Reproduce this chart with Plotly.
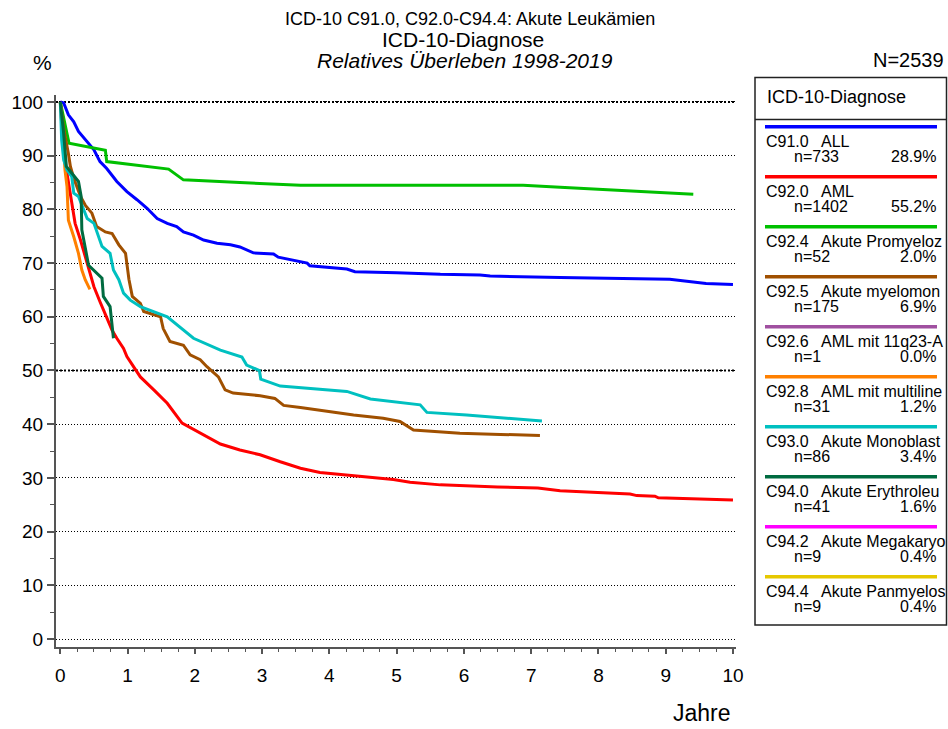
import plotly.graph_objects as go

# ---------------- data ----------------
codes = ["C91.0", "C92.0", "C92.4", "C92.5", "C92.6", "C92.8", "C93.0", "C94.0", "C94.2", "C94.4"]
names = ["ALL", "AML", "Akute Promyeloz", "Akute myelomon", "AML mit 11q23-A",
         "AML mit multiline", "Akute Monoblast", "Akute Erythroleu", "Akute Megakaryo", "Akute Panmyelos"]
counts = [733, 1402, 52, 175, 1, 31, 86, 41, 9, 9]
shares = ["28.9%", "55.2%", "2.0%", "6.9%", "0.0%", "1.2%", "3.4%", "1.6%", "0.4%", "0.4%"]
colors = ["#0000FF", "#FF0000", "#00C000", "#A05000", "#A050A0",
          "#FF8000", "#00C0C0", "#006B40", "#FF00FF", "#E6C800"]

years_c910 = [0, 0.05, 0.12, 0.2, 0.27, 0.4, 0.5, 0.59, 0.69, 0.84, 0.99, 1.14, 1.29, 1.44, 1.59, 1.73,
              1.83, 1.98, 2.13, 2.33, 2.53, 2.67, 2.87, 3.17, 3.24, 3.67, 3.71, 4.26, 4.38, 5.0, 5.65,
              6.24, 6.39, 7.43, 9.06, 9.6, 10.0]
surv_c910 = [100, 99.8, 97.6, 96.3, 94.5, 92.6, 91.1, 88.9, 87.6, 85.2, 83.3, 81.8, 80.2, 78.3, 77.4, 76.8,
             75.8, 75.2, 74.3, 73.7, 73.4, 73.0, 71.9, 71.7, 71.1, 70.0, 69.5, 68.9, 68.4, 68.2, 67.9,
             67.8, 67.6, 67.3, 67.0, 66.2, 66.0]

years_c920 = [0, 0.03, 0.07, 0.1, 0.17, 0.22, 0.3, 0.37, 0.42, 0.5, 0.59, 0.69, 0.77, 0.84, 0.94, 0.99,
              1.19, 1.39, 1.59, 1.81, 2.08, 2.38, 2.67, 2.97, 3.27, 3.57, 3.86, 4.26, 4.56, 4.95, 5.2,
              5.65, 6.5, 7.1, 7.43, 7.83, 8.47, 8.57, 8.84, 8.89, 10.0]
surv_c920 = [100, 94, 89, 86.7, 80.5, 77.4, 74.3, 71.2, 68.7, 65.6, 62.8, 60, 57.5, 56, 54.1, 52.6,
             48.8, 46.4, 43.9, 40.2, 38.3, 36.3, 35.2, 34.3, 33, 31.8, 31, 30.5, 30.1, 29.7, 29.2,
             28.7, 28.3, 28.1, 27.6, 27.4, 27.0, 26.7, 26.6, 26.3, 25.9]

years_c924 = [0, 0.05, 0.13, 0.67, 0.69, 1.61, 1.83, 2.67, 3.57, 6.88, 7.43, 9.41]
surv_c924 = [100, 97, 92.3, 91.0, 88.9, 87.5, 85.5, 85.0, 84.5, 84.5, 84.1, 82.8]

years_c925 = [0, 0.05, 0.12, 0.15, 0.2, 0.3, 0.37, 0.47, 0.54, 0.67, 0.77, 0.87, 0.97, 1.02, 1.07,
              1.19, 1.24, 1.49, 1.53, 1.63, 1.83, 1.93, 2.08, 2.18, 2.35, 2.45, 2.57, 2.97, 3.19,
              3.32, 3.57, 4.06, 4.36, 4.8, 5.05, 5.25, 5.55, 5.94, 6.54, 7.13]
surv_c925 = [100, 95, 90.4, 88, 85.8, 82.4, 80.8, 79.3, 76.8, 75.8, 75.5, 73.4, 71.8, 67, 63.8,
             62.5, 61.0, 60.0, 57.8, 55.4, 54.7, 52.9, 52, 50.7, 48.8, 46.4, 45.8, 45.3, 44.8,
             43.5, 43.1, 42.2, 41.7, 41.1, 40.5, 38.9, 38.6, 38.3, 38.1, 37.9]

years_c926 = []
surv_c926 = []

years_c928 = [0, 0.07, 0.1, 0.12, 0.2, 0.27, 0.32, 0.37, 0.44]
surv_c928 = [100, 87.3, 84.2, 78, 74.9, 71.8, 68.7, 66.9, 65.1]

years_c930 = [0, 0.02, 0.05, 0.1, 0.17, 0.2, 0.27, 0.4, 0.5, 0.62, 0.74, 0.79, 0.87, 0.94, 1.04,
              1.19, 1.59, 1.83, 1.98, 2.38, 2.7, 2.77, 2.96, 2.98, 3.27, 4.26, 4.61, 5.35, 5.45,
              6.04, 7.16]
surv_c930 = [100, 92.9, 89.2, 87.3, 86.1, 83, 82.4, 78.3, 77.4, 73.1, 71.8, 68.7, 66.9, 64.4, 63.1,
             61.9, 60, 57.5, 56, 53.8, 52.5, 51, 50, 48.4, 47.1, 46.1, 44.7, 43.6, 42.2,
             41.7, 40.6]

years_c940 = [0, 0.05, 0.09, 0.17, 0.27, 0.31, 0.32, 0.42, 0.62, 0.64, 0.74, 0.79]
surv_c940 = [100, 94.1, 88, 86.7, 85.2, 82.4, 76.2, 69.6, 67.2, 63.8, 61.9, 56]

years_c942 = []
surv_c942 = []
years_c944 = []
surv_c944 = []

series_years = [years_c910, years_c920, years_c924, years_c925, years_c926,
                years_c928, years_c930, years_c940, years_c942, years_c944]
series_surv = [surv_c910, surv_c920, surv_c924, surv_c925, surv_c926,
               surv_c928, surv_c930, surv_c940, surv_c942, surv_c944]

y_ticks = list(range(0, 101, 10))
x_ticks = list(range(0, 11))

# ---------------- layout geometry ----------------
W, H = 948, 729
L, R, T, B = 56, 212, 95, 82
PW, PH = W - L - R, H - T - B

def px(x):
    return (x - L) / PW

def py(y):
    return (H - B - y) / PH

FONT = "Liberation Sans, Arial, sans-serif"

fig = go.Figure()

for i in range(len(codes)):
    if len(series_years[i]) == 0:
        continue
    fig.add_trace(go.Scatter(x=series_years[i], y=series_surv[i], mode="lines",
                             line=dict(color=colors[i], width=3),
                             name=codes[i], showlegend=False, hoverinfo="skip"))

shapes = []
# heavier dotted gridlines at 50 and 100
for yv in (50, 100):
    shapes.append(dict(type="line", xref="paper", yref="y", x0=0, x1=1, y0=yv, y1=yv,
                       line=dict(color="black", width=2.2, dash="2px,2px"), layer="below"))

annotations = []
# titles
annotations.append(dict(text="ICD-10 C91.0, C92.0-C94.4: Akute Leukämien", x=px(470), y=py(19),
                        font=dict(size=18)))
annotations.append(dict(text="ICD-10-Diagnose", x=px(463), y=py(40), font=dict(size=21)))
annotations.append(dict(text="<i>Relatives Überleben 1998-2019</i>", x=px(465), y=py(61),
                        font=dict(size=21)))
annotations.append(dict(text="%", x=px(42), y=py(62), font=dict(size=21)))
annotations.append(dict(text="N=2539", x=px(946), y=py(60), xanchor="right", font=dict(size=20)))
annotations.append(dict(text="Jahre", x=px(733), y=py(713), xanchor="right", font=dict(size=23)))

# legend panel
BX0, BX1, BY0, BY1 = 755, 946.5, 77.5, 625
shapes.append(dict(type="rect", xref="paper", yref="paper", x0=px(BX0), x1=px(BX1),
                   y0=py(BY1), y1=py(BY0), line=dict(color="#222222", width=1.5)))
shapes.append(dict(type="line", xref="paper", yref="paper", x0=px(BX0), x1=px(BX1),
                   y0=py(119.5), y1=py(119.5), line=dict(color="#222222", width=1.5)))
annotations.append(dict(text="ICD-10-Diagnose", x=px(765), y=py(97), xanchor="left",
                        font=dict(size=18)))
for i in range(len(codes)):
    ly = 126.7 + 50 * i
    shapes.append(dict(type="line", xref="paper", yref="paper", x0=px(765), x1=px(937),
                       y0=py(ly), y1=py(ly), line=dict(color=colors[i], width=3.5)))
    annotations.append(dict(text=codes[i], x=px(764), y=py(ly + 14.5), xanchor="left",
                            font=dict(size=16)))
    annotations.append(dict(text=names[i], x=px(819), y=py(ly + 14.5), xanchor="left",
                            font=dict(size=16)))
    annotations.append(dict(text=f"n={counts[i]}", x=px(792), y=py(ly + 29.5), xanchor="left",
                            font=dict(size=16)))
    annotations.append(dict(text=shares[i], x=px(938), y=py(ly + 29.5), xanchor="right",
                            font=dict(size=16)))

for a in annotations:
    a.setdefault("xref", "paper")
    a.setdefault("yref", "paper")
    a.setdefault("showarrow", False)
    a.setdefault("xanchor", "center")
    a.setdefault("yanchor", "middle")
    a["font"] = dict(family=FONT, color="black", **a["font"])

fig.update_layout(
    width=W, height=H,
    margin=dict(l=L, r=R, t=T, b=B, pad=0),
    paper_bgcolor="white", plot_bgcolor="white",
    font=dict(family=FONT, color="black", size=19),
    showlegend=False,
    shapes=shapes,
    annotations=annotations,
    xaxis=dict(range=[-0.064, 10.045], tickvals=x_ticks, ticktext=[str(v) for v in x_ticks],
               showgrid=False, zeroline=False, showline=True, linecolor="#555555", linewidth=2,
               ticks="outside", ticklen=5, tickwidth=1.5, tickcolor="#555555",
               ticklabelstandoff=5,
               tickfont=dict(size=19, family=FONT, color="black"),
               minor=dict(dtick=0.25, tick0=0, ticks="outside", ticklen=3, tickwidth=1.2,
                          tickcolor="#555555", showgrid=False),
               fixedrange=True),
    yaxis=dict(range=[-1.49, 101.3], tickvals=y_ticks, ticktext=[str(v) for v in y_ticks],
               showgrid=True, gridcolor="black", gridwidth=1, griddash="1px,2px",
               zeroline=False, showline=True, linecolor="#555555", linewidth=2,
               ticks="outside", ticklen=7, tickwidth=1.5, tickcolor="#555555",
               tickfont=dict(size=19, family=FONT, color="black"),
               minor=dict(dtick=5, tick0=0, ticks="outside", ticklen=4, tickwidth=1.2,
                          tickcolor="#555555", showgrid=False),
               fixedrange=True),
)

fig.write_html("out.html", config={"displayModeBar": False},
               post_script="document.body.style.margin='0';document.body.style.overflow='hidden';")
